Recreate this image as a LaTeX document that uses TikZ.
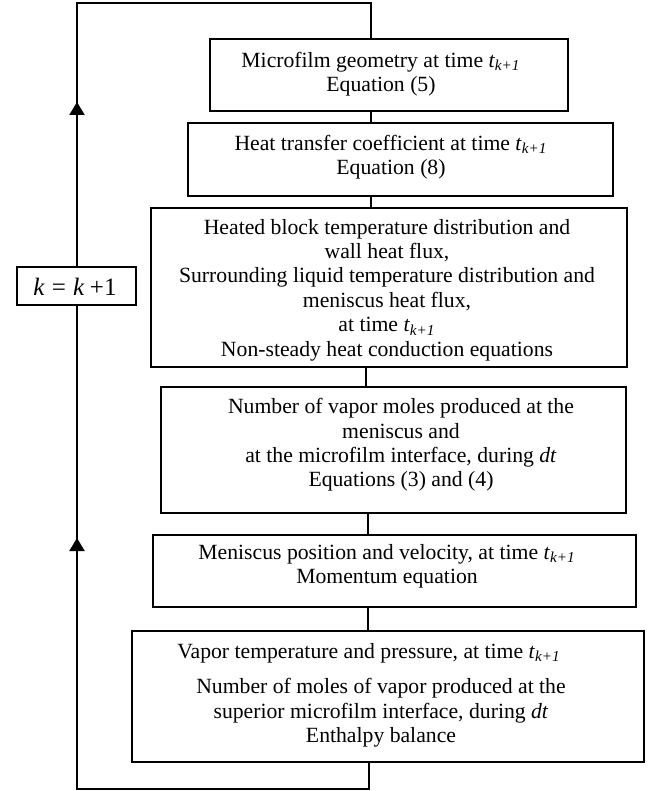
\documentclass[tikz,border=0pt]{standalone}
\usepackage{fontspec}
\setmainfont{Liberation Serif}
\usetikzlibrary{fit,arrows.meta}
\newcommand\tkk{\textit{t}\textsubscript{\textit{k+1}}}
\begin{document}
\begin{tikzpicture}[x=0.5pt,y=-0.5pt,
  box/.style={draw, line width=1pt, inner sep=0pt, outer sep=0pt},
  txt/.style={align=center, inner sep=0pt, font=\fontsize{10.85}{12.2}\selectfont},
  conn/.style={line width=1pt},
  tipline/.style={-{Triangle[width=7.5pt,length=6.5pt]}, line width=1pt}]
\useasboundingbox (0,0) rectangle (647,791);

% boxes
\node[box, fit={(210,39) (568,111)}] (b1) {};
\node[box, fit={(188,123) (613,196)}] (b2) {};
\node[box, fit={(151,208) (627,367)}] (b3) {};
\node[box, fit={(161,387) (626,513)}] (b4) {};
\node[box, fit={(153,535) (636,607)}] (b5) {};
\node[box, fit={(132,631) (644,762)}] (b6) {};

% texts
\node[txt] (t1) at (381,74) {Microfilm geometry at time \tkk\\Equation (5)};
\node[txt] (t2) at (391,157) {Heat transfer coefficient at time \tkk\\Equation (8)};
\node[txt] (t3) at (387,290) {Heated block temperature distribution and\\
  wall heat flux,\\
  Surrounding liquid temperature distribution and\\
  meniscus heat flux,\hspace*{15pt}\\
  at time \tkk\\
  Non-steady heat conduction equations};
\node[txt] (t4) at (401,445) {Number of vapor moles produced at the\\
  meniscus and\hspace*{14pt}\\
  at the microfilm interface, during \textit{dt}\\
  Equations (3) and (4)};
\node[txt] (t5) at (387,566) {Meniscus position and velocity, at time \tkk\\Momentum equation};
\node[txt] (t6a) at (369,653) {Vapor temperature and pressure, at time \tkk};
\node[txt] (t6b) at (381,713) {Number of moles of vapor produced at the\\
  superior microfilm interface, during \textit{dt}\hspace*{16pt}\\
  Enthalpy balance};

% connectors between boxes
\coordinate (c1) at (371,0);
\coordinate (c3) at (366,0);
\coordinate (c4) at (368,0);
\draw[conn] (b1.south -| c1) -- (b2.north -| c1);
\draw[conn] (b2.south -| c1) -- (b3.north -| c1);
\draw[conn] (b3.south -| c3) -- (b4.north -| c3);
\draw[conn] (b4.south -| c4) -- (b5.north -| c4);
\draw[conn] (b5.south -| c4) -- (b6.north -| c4);

% feedback loop
\coordinate (lb) at (369,789);
\coordinate (ll) at (77,789);
\coordinate (ul) at (77,3);
\coordinate (ur) at (371,3);
\draw[conn] (b6.south -| lb) -- (lb) -- (ll) -- (ul) -- (ur) -- (b1.north -| ur);

% arrowheads on loop
\coordinate (a1s) at (77,125);
\coordinate (a1e) at (77,102);
\coordinate (a2s) at (77,560);
\coordinate (a2e) at (77,538);
\draw[tipline] (a1s) -- (a1e);
\draw[tipline] (a2s) -- (a2e);

% k = k+1 box
\node[box, fill=white, fit={(17,267) (136,305)}] (kb) {};
\node[inner sep=0pt, font=\fontsize{12.5}{15}\selectfont] (kt) at (75,287)
  {\textit{k}\hspace{0.28em}=\hspace{0.28em}\textit{k}\hspace{0.22em}+1};
\end{tikzpicture}
\end{document}
